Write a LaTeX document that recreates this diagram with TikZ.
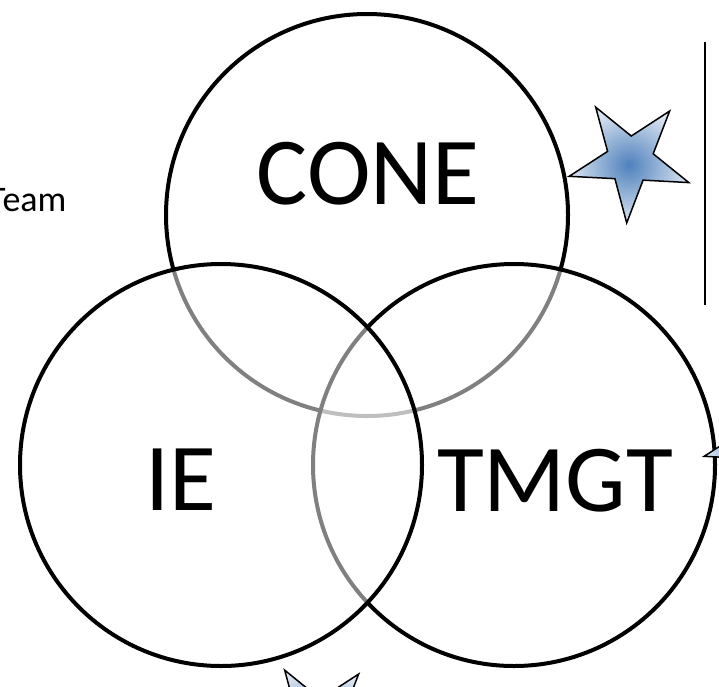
\documentclass[tikz,border=0pt]{standalone}
\usepackage{fontspec}
\setmainfont{Carlito}
\definecolor{starblue}{RGB}{79,129,189}
\definecolor{starlight}{RGB}{219,229,241}
\tikzset{
  venn/.style={circle, draw=black, line width=4pt, fill=white, fill opacity=0.5, minimum size=402pt, inner sep=0pt},
  bigtext/.style={anchor=base, inner sep=0pt, font=\fontsize{96}{110}\selectfont},
  smalltext/.style={anchor=base west, inner sep=0pt, font=\fontsize{36}{40}\selectfont},
  starshape/.style={inner color=starblue, outer color=starlight, draw=black, line width=1.5pt, line join=miter},
}
\newcommand{\mystar}[2]{%
  \shadedraw[starshape] ($(#1,#2)+(-123:63)$) -- ($(#1,#2)+(-87:24)$) --
    ($(#1,#2)+(-51:63)$) -- ($(#1,#2)+(-15:24)$) --
    ($(#1,#2)+(21:63)$) -- ($(#1,#2)+(57:24)$) --
    ($(#1,#2)+(93:63)$) -- ($(#1,#2)+(129:24)$) --
    ($(#1,#2)+(165:63)$) -- ($(#1,#2)+(201:24)$) -- cycle;}
\usetikzlibrary{calc}
\begin{document}
\begin{tikzpicture}[x=1pt, y=-1pt]
\useasboundingbox (0,0) rectangle (719,686);
% circles, drawn in stacking order
\node[venn] (cone) at (367,215) {};
\node[venn] (tmgt) at (514,465) {};
\node[venn] (ie) at (221,465) {};
% labels
\node[bigtext] (conet) at (368,204) {CONE};
\node[bigtext] (iet) at (181,510) {IE};
\node[bigtext] (tmgtt) at (555,511) {TMGT};
\node[smalltext] (team) at (-12,211) {Team};
% stars
\mystar{630}{160}
\mystar{765}{440}
\mystar{319}{723}
% vertical line
\coordinate (vtop) at (705,42);
\coordinate (vbot) at (705,305);
\draw[line width=1.8pt] (vtop) -- (vbot);
\end{tikzpicture}
\end{document}
